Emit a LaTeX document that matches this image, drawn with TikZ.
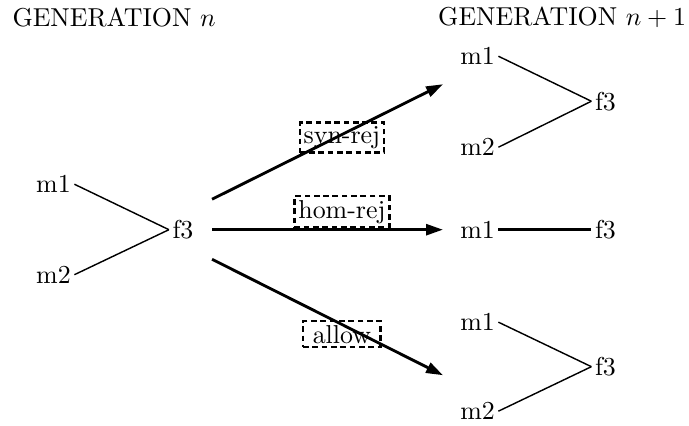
\documentclass[tikz,border=0pt]{standalone}
\usetikzlibrary{arrows.meta}

\begin{document}
\begin{tikzpicture}[
    indiv/.style={inner sep=1.2pt},
    mate/.style={line width=0.55pt},
    pass/.style={line width=1.1pt, -{Triangle[length=6.5pt, width=4.2pt]}},
    rule/.style={draw, dash pattern=on 2.2pt off 1.4pt, line width=1pt, inner sep=1.5pt}
  ]
  \useasboundingbox (0,0) rectangle (9.35,5.77);

  % Headings
  \node[anchor=base west, inner sep=0] (gen) at (0.163, 5.414) {GENERATION $n$};
  \node[anchor=base west, inner sep=0] (next) at (5.94, 5.427) {GENERATION $n+1$};

  % Left: parents and child of generation n
  \node[indiv] (m1) at (0.726, 3.270) {m1};
  \node[indiv] (m2) at (0.726, 2.042) {m2};
  \node[indiv] (f3) at (2.483, 2.653) {f3};
  \draw[mate] (m1.east) -- (f3.west);
  \draw[mate] (m2.east) -- (f3.west);

  % Right top: after syn-rej
  \node[indiv] (am1) at (6.48, 5.007) {m1};
  \node[indiv] (am2) at (6.48, 3.772) {m2};
  \node[indiv] (af3) at (8.216, 4.396) {f3};
  \draw[mate] (am1.east) -- (af3.west);
  \draw[mate] (am2.east) -- (af3.west);

  % Right middle: after hom-rej
  \node[indiv] (bm1) at (6.48, 2.653) {m1};
  \node[indiv] (bf3) at (8.216, 2.653) {f3};
  \draw[line width=1.1pt] (bm1.east) -- (bf3.west);

  % Right bottom: after allow
  \node[indiv] (cm1) at (6.48, 1.398) {m1};
  \node[indiv] (cm2) at (6.48, 0.190) {m2};
  \node[indiv] (cf3) at (8.216, 0.794) {f3};
  \draw[mate] (cm1.east) -- (cf3.west);
  \draw[mate] (cm2.east) -- (cf3.west);

  % Transitions
  \coordinate (s1) at (2.877, 3.066);
  \coordinate (e1) at (6.011, 4.627);
  \coordinate (s2) at (2.877, 2.653);
  \coordinate (e2) at (6.011, 2.653);
  \coordinate (s3) at (2.877, 2.252);
  \coordinate (e3) at (6.011, 0.678);
  \draw[pass] (s1) -- (e1);
  \draw[pass] (s2) -- (e2);
  \draw[pass] (s3) -- (e3);

  % Labels
  \node[rule] (syn) at (4.640, 3.901) {syn-rej};
  \node[rule] (hom) at (4.640, 2.897) {hom-rej};
  \node[rule, minimum width=30pt] (allow) at (4.640, 1.235) {allow};
\end{tikzpicture}
\end{document}
